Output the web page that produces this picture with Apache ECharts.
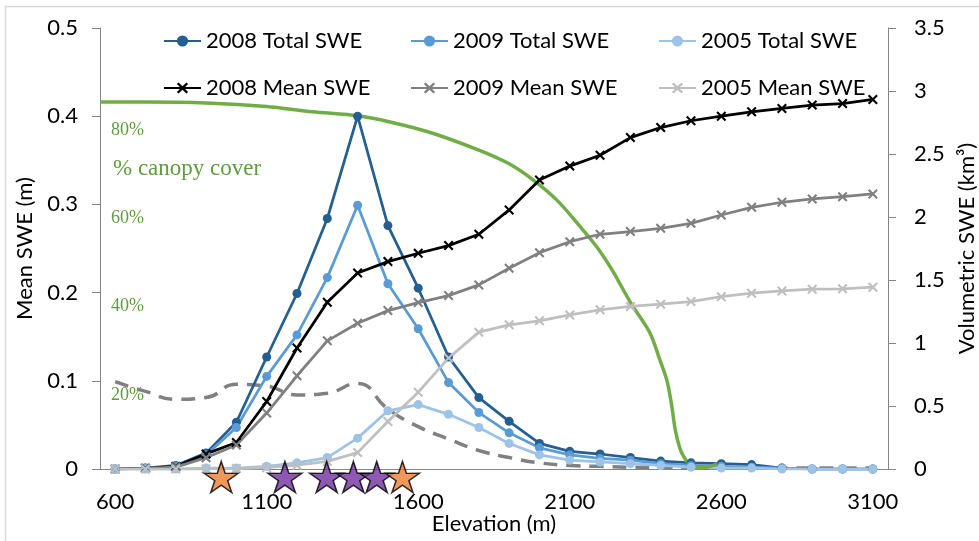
<!DOCTYPE html>
<html>
<head>
<meta charset="utf-8">
<script src="https://cdn.jsdelivr.net/npm/echarts@6/dist/echarts.min.js"></script>
<style>
  html, body { margin: 0; padding: 0; background: #ffffff; }
  #chart { width: 979px; height: 541px; }
</style>
</head>
<body>
<div id="chart"></div>
<script>
// Elevation bands (m)
const elevations = ['600', '700', '800', '900', '1000', '1100', '1200', '1300', '1400', '1500',
  '1600', '1700', '1800', '1900', '2000', '2100', '2200', '2300', '2400', '2500',
  '2600', '2700', '2800', '2900', '3000', '3100'];

// SWE per band (m), left axis
const total2008 = [0, 0.001, 0.004, 0.018, 0.053, 0.127, 0.199, 0.284, 0.4, 0.276,
  0.205, 0.127, 0.081, 0.054, 0.029, 0.02, 0.017, 0.013, 0.009, 0.007,
  0.006, 0.005, 0.001, 0, 0, 0];
const total2009 = [0, 0.001, 0.003, 0.016, 0.047, 0.105, 0.152, 0.217, 0.299, 0.21,
  0.159, 0.098, 0.064, 0.041, 0.024, 0.016, 0.012, 0.01, 0.006, 0.004,
  0.003, 0.002, 0.001, 0, 0, 0];
const total2005 = [0, 0, 0, 0.001, 0.001, 0.003, 0.007, 0.013, 0.035, 0.066,
  0.073, 0.062, 0.047, 0.029, 0.016, 0.01, 0.008, 0.006, 0.004, 0.002,
  0.001, 0.001, 0, 0, 0, 0];

// Cumulative SWE (km³), right axis
const mean2008 = [0, 0.005, 0.02, 0.12, 0.21, 0.536, 0.96, 1.324, 1.555, 1.646,
  1.712, 1.773, 1.863, 2.056, 2.293, 2.404, 2.49, 2.63, 2.71, 2.764,
  2.8, 2.835, 2.862, 2.888, 2.9, 2.933];
const mean2009 = [0, 0.004, 0.015, 0.09, 0.19, 0.444, 0.74, 1.017, 1.157, 1.257,
  1.321, 1.376, 1.461, 1.593, 1.717, 1.804, 1.863, 1.884, 1.91, 1.95,
  2.016, 2.077, 2.117, 2.143, 2.161, 2.183];
const mean2005 = [0, 0, 0, 0, 0.003, 0.01, 0.03, 0.06, 0.13, 0.377,
  0.61, 0.88, 1.086, 1.144, 1.176, 1.223, 1.263, 1.29, 1.308, 1.329,
  1.368, 1.395, 1.413, 1.427, 1.43, 1.443];

// Canopy cover (%) along elevation
const canopyElev = [550, 700, 900, 1100, 1250, 1400, 1500, 1640, 1800, 1900,
  1980, 2060, 2130, 2190, 2240, 2300, 2365, 2398, 2420, 2435,
  2448, 2462, 2475, 2495, 2513, 2550, 2596];
const canopyPct = [83.2, 83.2, 83.0, 82.2, 81.0, 80.1, 78.8, 76.3, 72.3, 69.2,
  65.5, 60.8, 55.3, 50.3, 45.1, 37.8, 30.8, 24.6, 20.2, 15.0,
  8.9, 5.0, 2.9, 1.0, 0.3, 0.4, 1.4];

// Dashed profile (left-axis units)
const dashedElev = [600, 700, 800, 900, 1000, 1100, 1200, 1300, 1400, 1500,
  1600, 1700, 1800, 1900, 2000, 2100, 2200, 2300, 2400, 2500,
  2600, 2700, 2800, 2900, 3000, 3100];
const dashedVal = [0.099, 0.088, 0.079, 0.081, 0.096, 0.094, 0.084, 0.086, 0.097, 0.068,
  0.048, 0.034, 0.021, 0.013, 0.007, 0.004, 0.003, 0.002, 0.002, 0.001,
  0.001, 0.001, 0.001, 0.001, 0.001, 0.001];

// Station elevations marked with stars
const orangeSites = [950, 1548];
const purpleSites = [1160, 1298, 1386, 1463];

// Canopy tick labels
const canopyTicks = [20, 40, 60, 80];

const FONT = 'Lato';
const xSymbol = 'path://M0,1.5L1.5,0L5,3.5L8.5,0L10,1.5L6.5,5L10,8.5L8.5,10L5,6.5L1.5,10L0,8.5L3.5,5Z';
const starSymbol = 'path://M50,0L61.17,34.63L97.55,34.55L68.07,55.87L79.39,90.45L50,69L20.61,90.45L31.93,55.87L2.45,34.55L38.83,34.63Z';

function pairs(xs, ys) { return xs.map((x, i) => [x, ys[i]]); }

function totalSeries(name, data, color) {
  return {
    name, type: 'line', xAxisIndex: 0, yAxisIndex: 0, data,
    symbol: 'circle', symbolSize: 9, showAllSymbol: true,
    lineStyle: { color, width: 2.75 },
    itemStyle: { color },
    emphasis: { disabled: true }
  };
}
function meanSeries(name, data, color) {
  return {
    name, type: 'line', xAxisIndex: 0, yAxisIndex: 1, data,
    symbol: xSymbol, symbolSize: 10, showAllSymbol: true,
    lineStyle: { color, width: 2.75 },
    itemStyle: { color },
    emphasis: { disabled: true }
  };
}
function starSeries(sites, color) {
  return {
    type: 'scatter', xAxisIndex: 1, yAxisIndex: 0,
    data: sites.map(e => [e, 0]),
    symbol: starSymbol, symbolSize: [34, 31], symbolOffset: [0, 8],
    clip: false, z: 10,
    itemStyle: { color, borderColor: '#000000', borderWidth: 1.5 },
    emphasis: { disabled: true }
  };
}

const labelStyle = { fontFamily: FONT, fontSize: 22, color: '#000000' };
const axisLineStyle = { show: true, lineStyle: { color: '#868686', width: 1 } };

const legendCols = [
  ['2008 Total SWE', '2008 Mean SWE'],
  ['2009 Total SWE', '2009 Mean SWE'],
  ['2005 Total SWE', '2005 Mean SWE']
];
const legendLeft = [163, 410, 658];

const chart = echarts.init(document.getElementById('chart'), null, { renderer: 'canvas' });

const option = {
  animation: false,
  backgroundColor: '#ffffff',
  grid: { left: 100, right: 91, top: 28, bottom: 72, containLabel: false, outerBoundsMode: 'none' },
  legend: legendCols.map((d, i) => ({
    orient: 'vertical', left: legendLeft[i], top: 29, padding: 0,
    itemGap: 23, itemWidth: 37, itemHeight: 14,
    selectedMode: false, data: d,
    textStyle: { fontFamily: FONT, fontSize: 22, color: '#000000', lineHeight: 24 }
  })),
  xAxis: [
    {
      type: 'category', data: elevations, boundaryGap: true,
      axisLine: axisLineStyle, axisTick: { show: false },
      axisLabel: Object.assign({ interval: 4, margin: 22 }, labelStyle),
      name: 'Elevation (m)', nameLocation: 'middle', nameGap: 44, nameMoveOverlap: false,
      nameTextStyle: labelStyle
    },
    { type: 'value', min: 550, max: 3150, show: false }
  ],
  yAxis: [
    {
      type: 'value', min: 0, max: 0.5, interval: 0.1, position: 'left',
      axisLine: axisLineStyle,
      axisTick: { show: true, length: 8, lineStyle: { color: '#868686' } },
      splitLine: { show: false },
      axisLabel: Object.assign({ margin: 22 }, labelStyle),
      name: 'Mean SWE (m)', nameLocation: 'middle', nameRotate: 90, nameGap: 62,
      nameTextStyle: labelStyle
    },
    {
      type: 'value', min: 0, max: 3.5, interval: 0.5, position: 'right',
      axisLine: axisLineStyle,
      axisTick: { show: true, length: 8, lineStyle: { color: '#868686' } },
      splitLine: { show: false },
      axisLabel: Object.assign({ margin: 26 }, labelStyle),
      name: 'Volumetric SWE (km³)', nameLocation: 'middle', nameRotate: 90, nameGap: 58,
      nameTextStyle: labelStyle
    },
    {
      type: 'value', min: 0, max: 100, interval: 20, position: 'left',
      axisLine: { show: false }, axisTick: { show: false }, splitLine: { show: false },
      axisLabel: {
        inside: true, margin: 11, verticalAlign: 'top', padding: [5, 0, 0, 0],
        fontFamily: 'Liberation Serif', fontSize: 18, color: '#5E9C3F',
        formatter: v => canopyTicks.indexOf(v) >= 0 ? v + '%' : ''
      }
    }
  ],
  graphic: [
    {
      type: 'rect', silent: true, z: -1,
      shape: { x: 5.5, y: 6.5, width: 1000, height: 600 },
      style: { fill: 'none', stroke: '#d9d9d9', lineWidth: 1.5 }
    },
    {
      type: 'text', left: 113, top: 157, silent: true,
      style: { text: '% canopy cover', font: '23px "Liberation Serif"', fill: '#5E9C3F' }
    }
  ],
  series: [
    {
      type: 'line', xAxisIndex: 1, yAxisIndex: 0,
      data: pairs(dashedElev, dashedVal), smooth: 0.5, symbol: 'none',
      lineStyle: { color: '#808080', width: 3.5, type: [14, 9] },
      emphasis: { disabled: true }, silent: true
    },
    totalSeries('2008 Total SWE', total2008, '#255E91'),
    totalSeries('2009 Total SWE', total2009, '#5B9BD5'),
    totalSeries('2005 Total SWE', total2005, '#9DC3E6'),
    {
      type: 'line', xAxisIndex: 1, yAxisIndex: 2,
      data: pairs(canopyElev, canopyPct), smooth: 0.3, symbol: 'none',
      lineStyle: { color: '#70AD47', width: 3.5 },
      emphasis: { disabled: true }, silent: true
    },
    meanSeries('2008 Mean SWE', mean2008, '#000000'),
    meanSeries('2009 Mean SWE', mean2009, '#808080'),
    meanSeries('2005 Mean SWE', mean2005, '#BFBFBF'),
    starSeries(purpleSites, '#7030A0'),
    starSeries(orangeSites, '#ED7D31')
  ]
};

chart.setOption(option);
</script>
</body>
</html>
